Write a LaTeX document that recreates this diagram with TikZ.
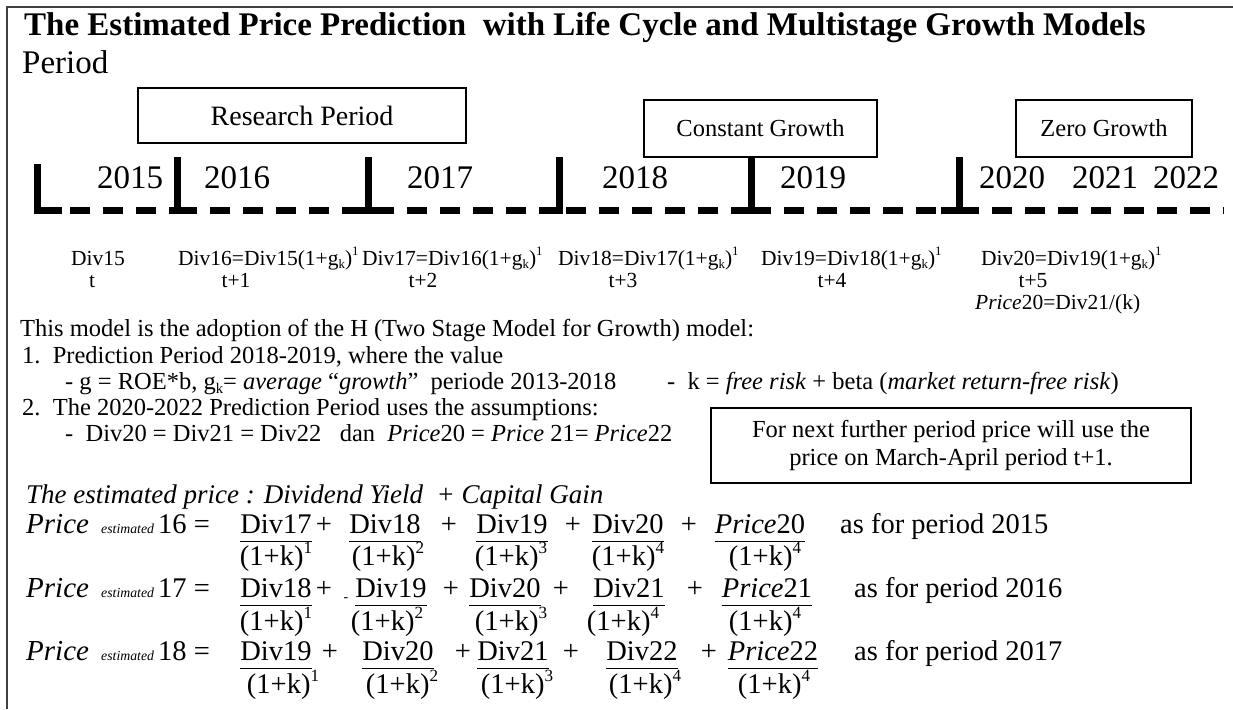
\documentclass[tikz,border=0pt]{standalone}
\usepackage{fontspec}
\usepackage{graphicx}
\setmainfont{Liberation Serif}
\newcommand\fsz[1]{\fontsize{#1}{#1}\selectfont}
\newcommand\supx[1]{\raisebox{0.42em}{\scalebox{0.6}{#1}}}
\newcommand\subx[1]{\raisebox{-0.18em}{\scalebox{0.6}{#1}}}
\tikzset{
  txt/.style={anchor=base west, inner sep=0pt},
  ctxt/.style={anchor=base, inner sep=0pt},
  box/.style={draw, line width=1.4pt, inner sep=0pt},
  tickline/.style={line width=7pt},
  dashline/.style={line width=7pt, dash pattern=on 20pt off 13pt},
  frameline/.style={line width=2pt, draw=black!75},
  uline/.style={line width=1.3pt},
  yr/.style={txt, font=\fsz{33}},
  divf/.style={txt, font=\fsz{21.5}},
  tlab/.style={ctxt, font=\fsz{21.5}},
  mid/.style={txt, font=\fsz{24.5}},
  num/.style={ctxt, font=\fsz{28.5}},
  bt/.style={txt, font=\fsz{28.5}},
  pr/.style={txt, font=\fsz{29}\itshape},
  es/.style={txt, font=\fsz{13.8}\itshape},
}
\begin{document}
\begin{tikzpicture}[x=1pt,y=-1pt]
\useasboundingbox (0,0) rectangle (1233,709);
\draw[frameline] (7,709) -- (7,7) -- (1233,7);

% title
\node[txt, font=\fsz{33}\bfseries] (title) at (24,36) {The Estimated Price Prediction\ \ with Life Cycle and Multistage Growth Models};
\node[txt, font=\fsz{33}] (period) at (22,74) {Period};

% boxes
\node[box, minimum width=328pt, minimum height=55pt, font=\fsz{28}] (research) at (302,115.5) {Research Period};
\node[box, minimum width=233pt, minimum height=57pt, font=\fsz{24.5}] (constant) at (760.5,128.5) {Constant\ Growth};
\node[box, minimum width=176pt, minimum height=57pt, font=\fsz{24.5}] (zero) at (1104,128.5) {Zero Growth};

% timeline
\coordinate (k0) at (37,210);
\coordinate (k1) at (177,210);
\coordinate (k2) at (368,210);
\coordinate (k3) at (559,210);
\coordinate (k4) at (751,210);
\coordinate (k5) at (959,210);
\coordinate (kend) at (1224,210);
\draw[dashline] (k0) -- (k1);
\draw[dashline] (k1) -- (k2);
\draw[dashline] (k3) -- (k2);
\draw[dashline] (k4) -- (k3);
\draw[dashline] (k4) -- (k5);
\draw[dashline] (k5) -- (kend);
% solid feet beside the ticks
\draw[tickline] (k0) -- ++(25,0);
\draw[tickline] (k1) -- ++(18,0);
\draw[tickline] ([xshift=-8pt]k2) -- ++(26,0);
\draw[tickline] ([xshift=-20pt]k3) -- ++(20,0);
\draw[tickline] ([xshift=-16pt]k4) -- ++(32,0);
\draw[tickline] ([xshift=-18pt]k5) -- ++(34,0);
% ticks
\draw[tickline] (37,164) -- ([yshift=-3.5pt]k0);
\draw[tickline] (177,157) -- ([yshift=-3.5pt]k1);
\draw[tickline] (368,157) -- ([yshift=-3.5pt]k2);
\draw[tickline] (559,157) -- ([yshift=-3.5pt]k3);
\draw[tickline] (constant.south -| k4) -- ([yshift=-3.5pt]k4);
\draw[tickline] (959,157) -- ([yshift=-3.5pt]k5);

% years
\node[yr] (y15) at (97,188) {2015};
\node[yr] (y16) at (204,188) {2016};
\node[yr] (y17) at (407,188) {2017};
\node[yr] (y18) at (602,188) {2018};
\node[yr] (y19) at (780,188) {2019};
\node[yr] (y20) at (979,188) {2020};
\node[yr] (y21) at (1072,188) {2021};
\node[yr] (y22) at (1153,188) {2022};

% dividends
\node[divf] (d15) at (71,265) {Div15};
\node[divf] (d16) at (178,265) {Div16=Div15(1+g\subx{k})\supx{1}};
\node[divf] (d17) at (362,265) {Div17=Div16(1+g\subx{k})\supx{1}};
\node[divf] (d18) at (558,265) {Div18=Div17(1+g\subx{k})\supx{1}};
\node[divf] (d19) at (761,265) {Div19=Div18(1+g\subx{k})\supx{1}};
\node[divf] (d20) at (981,265) {Div20=Div19(1+g\subx{k})\supx{1}};
\node[tlab] (t0) at (92,287) {t};
\node[tlab] (t1) at (236,287) {t+1};
\node[tlab] (t2) at (423,287) {t+2};
\node[tlab] (t3) at (623,287) {t+3};
\node[tlab] (t4) at (832,287) {t+4};
\node[tlab] (t5) at (1033,287) {t+5};
\node[divf] (p20) at (975,309) {\textit{Price}20=Div21/(k)};

% middle text
\node[mid] (m1) at (20,336) {This model is the adoption of the H (Two Stage Model for Growth) model:};
\node[mid] (m2) at (22,363) {1.\ \ Prediction Period 2018-2019, where the value};
\node[mid] (m3) at (65,389) {- g = ROE*b, g\subx{k}= \textit{average} “\textit{growth}”\ \ periode 2013-2018};
\node[mid] (m4) at (667,389) {-\ \ k = \textit{free risk} + beta (\textit{market return-free risk})};
\node[mid] (m5) at (22,415) {2.\ \ The 2020-2022 Prediction Period uses the assumptions:};
\node[mid] (m6) at (65,441) {-\ \ Div20 = Div21 = Div22\ \ \ dan\ \ \textit{Price}20 = \textit{Price} 21= \textit{Price}22};
\node[box, minimum width=480pt, minimum height=75pt, align=center, font=\fontsize{24.5}{28}\selectfont] (next) at (951,445.5) {For next further period price will use the\\price on March-April\ period t+1.};

% bottom
\node[txt, font=\fsz{27}\itshape] (est) at (26,503) {The estimated price : Dividend Yield\ \ + Capital Gain};

% row 1
\node[pr] (pa) at (26,533) {Price};
\node[es] (ea) at (101,533) {estimated};
\node[bt] (qa) at (158,533) {16 =};
\node[num] (a1) at (276,533) {Div17};
\node[num] (a2) at (385,533) {Div18};
\node[num] (a3) at (512,533) {Div19};
\node[num] (a4) at (628,533) {Div20};
\node[num] (a5) at (760,533) {\textit{Price}20};
\node[num] (ap1) at (324,533) {+};
\node[num] (ap2) at (449,533) {+};
\node[num] (ap3) at (573,533) {+};
\node[num] (ap4) at (689,533) {+};
\node[bt] (aas) at (840,533) {as for period 2015};
\node[num] (ad1) at (276,565) {(1+k)\supx{1}};
\node[num] (ad2) at (388,565) {(1+k)\supx{2}};
\node[num] (ad3) at (511,565) {(1+k)\supx{3}};
\node[num] (ad4) at (628,565) {(1+k)\supx{4}};
\node[num] (ad5) at (765,565) {(1+k)\supx{4}};

% row 2
\node[pr] (pb) at (26,597) {Price};
\node[es] (eb) at (101,597) {estimated};
\node[bt] (qb) at (158,597) {17 =};
\node[num] (b1) at (276,597) {Div18};
\node[num] (b2) at (391,597) {Div19};
\node[num] (b3) at (505,597) {Div20};
\node[num] (b4) at (629,597) {Div21};
\node[num] (b5) at (767,597) {\textit{Price}21};
\node[num] (bp1) at (324,597) {+};
\node[ctxt, font=\fsz{14}] (bm) at (346,601) {-};
\node[num] (bp2) at (451,597) {+};
\node[num] (bp3) at (561,597) {+};
\node[num] (bp4) at (695,597) {+};
\node[bt] (bas) at (854,597) {as for period 2016};
\node[num] (bd1) at (276,630) {(1+k)\supx{1}};
\node[num] (bd2) at (387,630) {(1+k)\supx{2}};
\node[num] (bd3) at (511,630) {(1+k)\supx{3}};
\node[num] (bd4) at (623,630) {(1+k)\supx{4}};
\node[num] (bd5) at (765,630) {(1+k)\supx{4}};

% row 3
\node[pr] (pc) at (26,660) {Price};
\node[es] (ec) at (101,660) {estimated};
\node[bt] (qc) at (158,660) {18 =};
\node[num] (c1) at (276,660) {Div19};
\node[num] (c2) at (398,660) {Div20};
\node[num] (c3) at (513,660) {Div21};
\node[num] (c4) at (642,660) {Div22};
\node[num] (c5) at (773,660) {\textit{Price}22};
\node[num] (cp1) at (330,660) {+};
\node[num] (cp2) at (463,660) {+};
\node[num] (cp3) at (571,660) {+};
\node[num] (cp4) at (709,660) {+};
\node[bt] (cas) at (854,660) {as for period 2017};
\node[num] (cd1) at (283,693) {(1+k)\supx{1}};
\node[num] (cd2) at (402,693) {(1+k)\supx{2}};
\node[num] (cd3) at (517,693) {(1+k)\supx{3}};
\node[num] (cd4) at (645,693) {(1+k)\supx{4}};
\node[num] (cd5) at (774,693) {(1+k)\supx{4}};

% underlines
\foreach \n in {a1,a2,a3,a4,a5,b1,b2,b3,b4,b5,c1,c2,c3,c4,c5}
  \draw[uline] ([yshift=-8pt]\n.south west) -- ([yshift=-8pt]\n.south east);
\end{tikzpicture}
\end{document}
